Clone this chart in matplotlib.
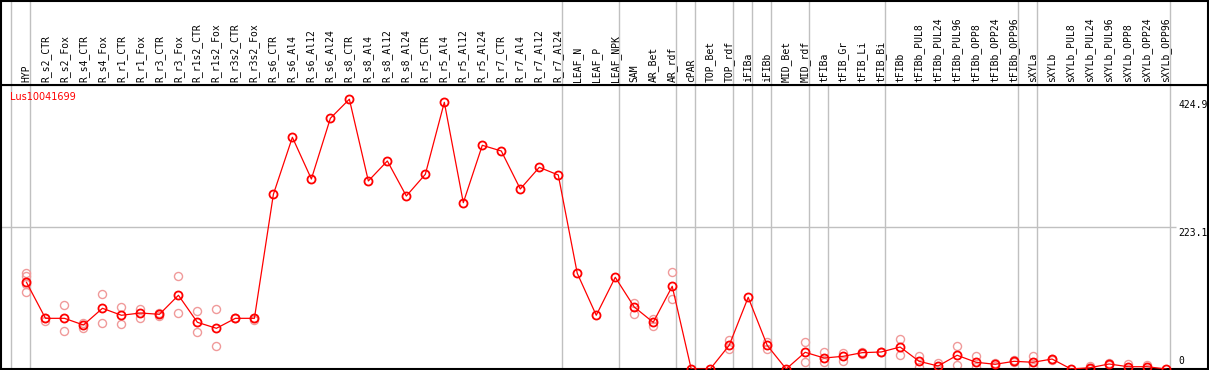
import matplotlib
matplotlib.use("Agg")
import matplotlib.pyplot as plt
import matplotlib.transforms as mtransforms

GENE = "Lus10041699"

samples = ["HYP", "R_s2_CTR", "R_s2_Fox", "R_s4_CTR", "R_s4_Fox", "R_r1_CTR", "R_r1_Fox",
           "R_r3_CTR", "R_r3_Fox", "R_r1s2_CTR", "R_r1s2_Fox", "R_r3s2_CTR", "R_r3s2_Fox",
           "R_s6_CTR", "R_s6_Al4", "R_s6_Al12", "R_s6_Al24", "R_s8_CTR", "R_s8_Al4",
           "R_s8_Al12", "R_s8_Al24", "R_r5_CTR", "R_r5_Al4", "R_r5_Al12", "R_r5_Al24",
           "R_r7_CTR", "R_r7_Al4", "R_r7_Al12", "R_r7_Al24", "LEAF_N", "LEAF_P", "LEAF_NPK",
           "SAM", "AR_Bet", "AR_rdf", "cPAR", "TOP_Bet", "TOP_rdf", "iFIBa", "iFIBb",
           "MID_Bet", "MID_rdf", "tFIBa", "tFIB_Gr", "tFIB_Li", "tFIB_Bi", "tFIBb",
           "tFIBb_PUL8", "tFIBb_PUL24", "tFIBb_PUL96", "tFIBb_OPP8", "tFIBb_OPP24",
           "tFIBb_OPP96", "sXYLa", "sXYLb", "sXYLb_PUL8", "sXYLb_PUL24", "sXYLb_PUL96",
           "sXYLb_OPP8", "sXYLb_OPP24", "sXYLb_OPP96"]

# mean expression per sample
means = [136.5, 79.8, 79.8, 69.3, 95.6, 84.6, 88.2, 86.1, 116.1, 73.5, 64.1, 79.8, 79.8,
         275.1, 364.9, 299.2, 394.8, 424.9, 296.1, 327.6, 272.4, 306.6, 420.0, 261.9, 352.3,
         343.3, 283.5, 317.6, 305.5, 150.7, 84.6, 144.4,
         97.6, 73.5, 130.2, 0, 0, 37.3, 112.9, 37.3,
         0, 26.3, 17.3, 20.0, 25.7, 26.8, 34.6,
         12.1, 4.7, 21.6, 10.6, 7.4, 12.1, 10.6, 15.7,
         0, 2.0, 7.9, 3.6, 3.6, 0]

# individual replicates
reps = [[150.4, 147.2, 133.9, 121.3], [79.8, 76.1], [100.3, 59.4], [72.9, 65.0],
        [117.6, 72.0], [97.2, 70.4], [95.0, 79.8], [88.2, 84.0], [146.0, 87.7],
        [90.9, 57.8], [94.0, 35.7], [79.8, 79.8], [79.8, 77.0],
        [], [], [], [], [], [], [], [], [], [], [], [], [], [], [], [], [], [], [],
        [103.5, 87.1], [79.2, 67.2], [152.3, 109.8], [], [], [46.1, 31.0], [], [43.0, 32.0],
        [], [42.0, 10.6], [26.8, 11.5], [24.7, 13.1], [27.2, 23.6], [27.5, 26.0], [47.2, 21.6],
        [20.9, 3.6], [9.9, 0.0], [36.2, 6.8], [20.9, 3.6], [9.0, 5.0], [13.5, 11.0],
        [20.9, 3.6], [16.5, 14.5], [], [4.7, 0.0], [9.0, 7.0], [7.4, 0.0], [6.0, 0.0], []]

# last sample of every tissue group
group_ends = [0, 28, 31, 34, 35, 37, 38, 39, 41, 42, 45, 52, 53, 60]
ref_values = [424.9, 223.1, 0]

W, H = 1209, 370
TOP = 85          # pixel height of the label strip
X0, DX = 26, 19   # pixel position of first sample and spacing
PX_PER_UNIT = 0.635

fig = plt.figure(figsize=(W / 100, H / 100), dpi=100)
xlim = (-X0 / DX, (W - 1 - X0) / DX)

ax = fig.add_axes([0.5 / W, 1 / H, (W - 1.5) / W, (H - 1 - TOP) / H])
lab = fig.add_axes([0.5 / W, (H - TOP) / H, (W - 1.5) / W, (TOP - 1) / H])

for a in (ax, lab):
    a.set_xlim(*xlim)
    a.set_xticks([])
    a.set_yticks([])
    for s in a.spines.values():
        s.set_color("black")
        s.set_linewidth(1.5)
ax.set_ylim(0, (H - 1 - TOP) / PX_PER_UNIT)
lab.set_ylim(0, 1)

# vertical group separators
seps = [-0.84] + [g + 0.21 for g in group_ends]
for xs in seps:
    ax.axvline(xs, color="#c0c0c0", lw=1.0, zorder=1)
    if xs != 42.21:
        lab.axvline(xs, color="#c0c0c0", lw=1.0, zorder=1)

ax.hlines(ref_values[1], xlim[0], (1176 - X0) / DX, color="#c0c0c0", lw=1.0, zorder=1)

xs = list(range(len(samples)))
for i, r in enumerate(reps):
    if r:
        ax.plot([i] * len(r), r, "o", ms=5.8, mfc="none", mec="#f09a9a", mew=1.0,
                zorder=2, clip_on=True)
ax.plot(xs, means, "-", color="red", lw=0.9, zorder=3)
ax.plot(xs, means, "o", ms=5.8, mfc="none", mec="red", mew=1.3, zorder=4)

for i, name in enumerate(samples):
    lab.text(i, 0.03, name, rotation=90, ha="center", va="bottom",
             family="DejaVu Sans Mono", fontsize=7)

# reference value labels on the right
tx = (1178 - X0) / DX
ax.text(tx, ref_values[0] - 2, "424.9", ha="left", va="top", family="DejaVu Sans Mono", fontsize=7)
ax.text(tx, ref_values[1] - 1, "223.1", ha="left", va="top", family="DejaVu Sans Mono", fontsize=7)
ax.text(tx, 5, "0", ha="left", va="bottom", family="DejaVu Sans Mono", fontsize=7)

fig.text(10 / W, 1 - 97 / H, GENE, color="red", ha="left", va="center",
         family="DejaVu Sans", fontsize=7)

fig.savefig("out.png", dpi=100)
